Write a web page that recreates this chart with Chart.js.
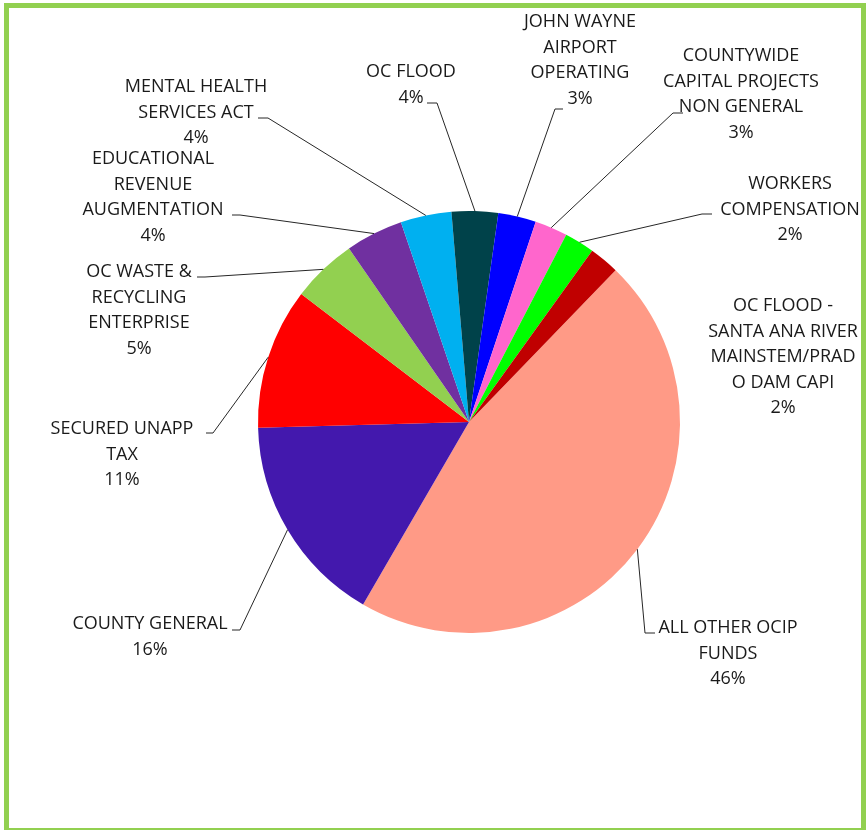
<!DOCTYPE html>
<html>
<head>
<meta charset="utf-8">
<script src="https://cdn.jsdelivr.net/npm/chart.js@4.4.1/dist/chart.umd.min.js"></script>
<style>
  html, body { margin: 0; padding: 0; background: #fff; overflow: hidden; }
  #wrap { position: relative; width: 866px; height: 830px; }
  #frame {
    position: absolute; left: 4px; top: 3px; width: 862px; height: 830px;
    box-sizing: border-box; border: 5px solid #92D050; pointer-events: none;
  }
  canvas { position: absolute; left: 0; top: 0; }
</style>
</head>
<body>
<div id="wrap">
  <canvas id="pie" width="866" height="830"></canvas>
  <div id="frame"></div>
</div>
<script>
// Данные диаграммы (по часовой стрелке, начиная с самого большого сектора)
const categories = [
  'ALL OTHER OCIP FUNDS',
  'COUNTY GENERAL',
  'SECURED UNAPP TAX',
  'OC WASTE & RECYCLING ENTERPRISE',
  'EDUCATIONAL REVENUE AUGMENTATION',
  'MENTAL HEALTH SERVICES ACT',
  'OC FLOOD',
  'JOHN WAYNE AIRPORT OPERATING',
  'COUNTYWIDE CAPITAL PROJECTS NON GENERAL',
  'WORKERS COMPENSATION',
  'OC FLOOD - SANTA ANA RIVER MAINSTEM/PRADO DAM CAPI',
];
const values = [46.15, 16.2, 10.8, 5.0, 4.4, 3.9, 3.55, 2.9, 2.5, 2.3, 2.3];

// Переносы строк в подписях как на картинке
const labelLines = [
  ['ALL OTHER OCIP', 'FUNDS'],
  ['COUNTY GENERAL'],
  ['SECURED UNAPP', 'TAX'],
  ['OC WASTE &', 'RECYCLING', 'ENTERPRISE'],
  ['EDUCATIONAL', 'REVENUE', 'AUGMENTATION'],
  ['MENTAL HEALTH', 'SERVICES ACT'],
  ['OC FLOOD'],
  ['JOHN WAYNE', 'AIRPORT', 'OPERATING'],
  ['COUNTYWIDE', 'CAPITAL PROJECTS', 'NON GENERAL'],
  ['WORKERS', 'COMPENSATION'],
  ['OC FLOOD -', 'SANTA ANA RIVER', 'MAINSTEM/PRAD', 'O DAM CAPI'],
];

const colors = [
  '#FF9A86', '#4318AD', '#FF0000', '#92D050', '#7030A0', '#00B0F0',
  '#00424A', '#0000FF', '#FF66CC', '#00FF00', '#C00000',
];

// Расположение подписей: центр текста, первая строка, выноска (x1 -> x2 на высоте y)
const labelLayout = [
  { cx: 728, top: 628, stub: [655, 645, 633] },
  { cx: 150, top: 624, stub: [232, 240, 630] },
  { cx: 122, top: 429, stub: [206, 213, 433] },
  { cx: 139, top: 272, stub: [197, 205, 277] },
  { cx: 153, top: 159, stub: [232, 240, 215] },
  { cx: 196, top: 87,  stub: [258, 268, 118] },
  { cx: 411, top: 72,  stub: [427, 437, 103] },
  { cx: 580, top: 22,  stub: [563, 555, 109] },
  { cx: 741, top: 56,  stub: [683, 673, 113] },
  { cx: 790, top: 184, stub: [712, 702, 214] },
  { cx: 783, top: 306, stub: null },
];

const LINE_H = 25.5;
const total = values.reduce((a, b) => a + b, 0);

// Плагин для подписей с выносками в стиле Excel
const pieLabels = {
  id: 'pieLabels',
  afterDraw(chart) {
    const { ctx } = chart;
    const arcs = chart.getDatasetMeta(0).data;
    ctx.save();
    ctx.font = '18px "Open Sans", sans-serif';
    ctx.fillStyle = '#1a1a1a';
    ctx.textAlign = 'center';
    ctx.textBaseline = 'middle';
    arcs.forEach((arc, i) => {
      const pos = labelLayout[i];
      const pct = Math.round(values[i] / total * 100 + 1e-9) + '%';
      const lines = labelLines[i].concat([pct]);
      lines.forEach((t, k) => ctx.fillText(t, pos.cx, pos.top + k * LINE_H));

      if (pos.stub) {
        const mid = (arc.startAngle + arc.endAngle) / 2;
        const ex = arc.x + Math.cos(mid) * arc.outerRadius;
        const ey = arc.y + Math.sin(mid) * arc.outerRadius;
        ctx.beginPath();
        ctx.strokeStyle = '#262626';
        ctx.lineWidth = 1;
        ctx.moveTo(pos.stub[0], pos.stub[2]);
        ctx.lineTo(pos.stub[1], pos.stub[2]);
        ctx.lineTo(ex, ey);
        ctx.stroke();
      }
    });
    ctx.restore();
  },
};

new Chart(document.getElementById('pie'), {
  type: 'pie',
  data: {
    labels: categories,
    datasets: [{
      data: values,
      backgroundColor: colors,
      borderWidth: 0,
    }],
  },
  options: {
    responsive: false,
    animation: false,
    rotation: 44,
    layout: { padding: { left: 258, right: 186, top: 211, bottom: 197 } },
    plugins: {
      legend: { display: false },
      tooltip: { enabled: false },
    },
  },
  plugins: [pieLabels],
});
</script>
</body>
</html>
